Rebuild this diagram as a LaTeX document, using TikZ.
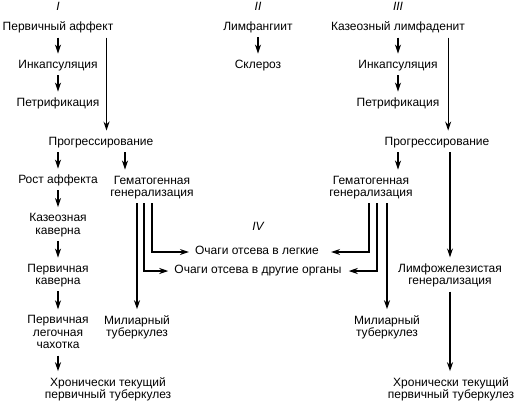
\documentclass[tikz,border=0pt]{standalone}
\usepackage{fontspec}
\setmainfont{Liberation Sans}
\usetikzlibrary{arrows.meta}

\tikzset{
  txt/.style={inner sep=0pt, align=center, font=\fontsize{12}{12.5}\selectfont,
    execute at begin node=\strut, execute at end node=\strut},
  num/.style={txt, font=\fontsize{12}{12.5}\selectfont\itshape},
  arr/.style={-{Stealth[length=9pt,width=6pt]}, line width=1.2pt,
    shorten <=3pt, shorten >=6pt}
}

\begin{document}
\begin{tikzpicture}[x=1pt,y=-1pt]
                \useasboundingbox (0,0) rectangle (520,408);
                % I
                \node[num] (n1) at (58,8) {I};
                \node[txt] (a1) at (58,28) {Первичный аффект};
                \node[txt] (a2) at (58,66) {Инкапсуляция};
                \node[txt] (a3) at (58,104) {Петрификация};
                \node[txt] (a4) at (101,143) {Прогрессирование};
                \node[txt] (a5) at (58,181) {Рост аффекта};
                \node[txt] (g1) at (152,188) {Гематогенная\\генерализация};
                \node[txt] (a6) at (58,225.5) {Казеозная\\каверна};
                \node[txt] (a7) at (58,276) {Первичная\\каверна};
                \node[txt] (a8) at (58,334) {Первичная\\легочная\\чахотка};
                \node[txt] (a9) at (108,390) {Хронически текущий\\первичный туберкулез};
                \node[txt] (m1) at (137,328) {Милиарный\\туберкулез};
                % II, IV
                \node[num] (n2) at (258,8) {II};
                \node[txt] (b1) at (258,28) {Лимфангиит};
                \node[txt] (b2) at (258,66) {Склероз};
                \node[num] (n4) at (258,228) {IV};
                \node[txt] (o1) at (257,252) {Очаги отсева в легкие};
                \node[txt] (o2) at (258,271) {Очаги отсева в другие органы};
                % III
                \node[num] (n3) at (398,8) {III};
                \node[txt] (c1) at (398,28) {Казеозный лимфаденит};
                \node[txt] (c2) at (398,66) {Инкапсуляция};
                \node[txt] (c3) at (398,104) {Петрификация};
                \node[txt] (c4) at (437,143) {Прогрессирование};
                \node[txt] (g2) at (371,188) {Гематогенная\\генерализация};
                \node[txt] (c5) at (450,276) {Лимфожелезистая\\генерализация};
                \node[txt] (m2) at (387,328) {Милиарный\\туберкулез};
                \node[txt] (c6) at (451,390) {Хронически текущий\\первичный туберкулез};
                % arrows I
                \draw[arr] (a1) -- (a2);
                \draw[arr] (a2) -- (a3);
                \draw[arr] ([xshift=-7pt]a1.south east) -- ([xshift=-7pt]a1.south east |- a4.north);
                \draw[arr] (a4.south -| a5.north) -- (a5.north);
                \draw[arr] ([xshift=24pt]a4.south) -- ([xshift=24pt]a4.south |- g1.north);
                \draw[arr] (a5) -- (a6);
                \draw[arr] (a6) -- (a7);
                \draw[arr] (a7) -- (a8);
                \draw[arr] (a8.south) -- (a8.south |- a9.north);
                \draw[arr] (g1.south -| m1.north) -- (m1.north);
                \draw[arr] (g1.south) |- (o1.west);
                \draw[arr] ([xshift=-8pt]g1.south) |- (o2.west);
                % arrows II
                \draw[arr] (b1) -- (b2);
                % arrows III
                \draw[arr] (c1) -- (c2);
                \draw[arr] (c2) -- (c3);
                \draw[arr] ([xshift=-17pt]c1.south east) -- ([xshift=-17pt]c1.south east |- c4.north);
                \draw[arr] (c4.south -| c3.south) -- (c3.south |- g2.north);
                \draw[arr] (c4.south -| c5.north) -- (c5.north);
                \draw[arr] (c5.south) -- (c5.south |- c6.north);
                \draw[arr] (g2.south -| m2.north) -- (m2.north);
                \draw[arr] ([xshift=-2pt]g2.south) |- ([xshift=6pt]o1.east);
                \draw[arr] ([xshift=6pt]g2.south) |- ([xshift=1pt]o2.east);
            \end{tikzpicture}
\end{document}
